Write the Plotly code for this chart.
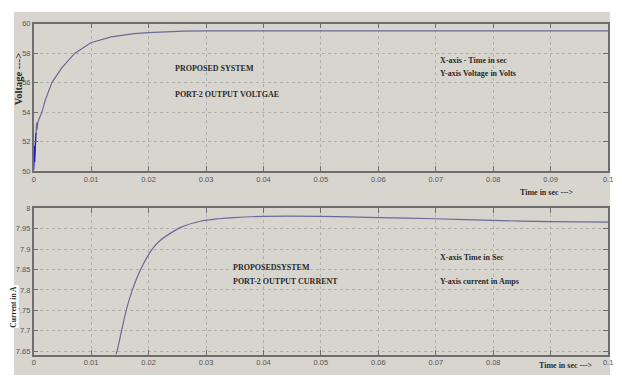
import plotly.graph_objects as go

# ---------------- data ----------------
v_time = [0.0, 0.00004, 0.00008, 0.00012, 0.00016, 0.0002, 0.00025, 0.0003, 0.0004, 0.0005,
          0.0006, 0.0007, 0.001, 0.00143, 0.002, 0.00316, 0.00488, 0.00718, 0.00993,
          0.0135, 0.0175, 0.02, 0.0261, 0.03, 0.05, 0.07, 0.1]
v_volt = [50.1, 51.6, 50.4, 51.7, 50.6, 51.5, 51.0, 51.9, 52.6, 53.3,
          52.8, 53.3, 53.6, 54.0, 54.8, 56.0, 57.0, 58.0, 58.71,
          59.11, 59.33, 59.40, 59.50, 59.52, 59.52, 59.52, 59.52]
n_blue = 9  # first samples drawn in saturated blue

i_time = [0.0143, 0.0145, 0.0161, 0.0171, 0.01867, 0.0207, 0.022, 0.0256, 0.029,
          0.0322, 0.0348, 0.04, 0.05, 0.06, 0.07, 0.08, 0.09, 0.1]
i_amp = [7.642, 7.650, 7.750, 7.797, 7.852, 7.901, 7.921, 7.953, 7.968,
         7.974, 7.977, 7.980, 7.980, 7.977, 7.974, 7.970, 7.967, 7.966]

x_ticks = [0, 0.01, 0.02, 0.03, 0.04, 0.05, 0.06, 0.07, 0.08, 0.09, 0.1]
x_labels_top = ["0", "0.01", "0.02", "0.03", "0.04", "0.05", "0.06", "0.07", "0.08", "0.09", "0.1"]
# in the reference the 0.09 label of the lower panel is hidden behind the axis title
x_labels_bottom = ["0", "0.01", "0.02", "0.03", "0.04", "0.05", "0.06", "0.07", "0.08", "", "0.1"]
v_ticks = [50, 52, 54, 56, 58, 60]
v_labels = ["50", "52", "54", "56", "58", "60"]
i_ticks = [7.65, 7.7, 7.75, 7.8, 7.85, 7.9, 7.95, 8.0]
i_labels = ["7.65", "7.7", "7.75", "7.8", "7.85", "7.9", "7.95", "8"]

# page body has an 8px margin: figure is shifted by 8px
OFF = 8
W, H = 622 - OFF, 380 - OFF
def px(x):
    return (x - OFF) / W
def py(y):
    return 1 - (y - OFF) / H

curve_color = "#6a6a98"
grid_color = "#b0b0b0"
axis_color = "#6e6e6e"
bg_gray = "#d8d5cf"
tick_font = dict(family="Liberation Sans Narrow, Liberation Sans, Arial", size=7.5, color="#555555")
lab_family = "Liberation Serif, Times New Roman, serif"

fig = go.Figure()
fig.add_trace(go.Scatter(x=v_time[n_blue - 1:], y=v_volt[n_blue - 1:], mode="lines",
                         line=dict(color=curve_color, width=1.2), xaxis="x", yaxis="y",
                         showlegend=False))
fig.add_trace(go.Scatter(x=v_time[:n_blue], y=v_volt[:n_blue], mode="lines",
                         line=dict(color="#1c1cc8", width=1.4), xaxis="x", yaxis="y",
                         showlegend=False))
fig.add_trace(go.Scatter(x=i_time, y=i_amp, mode="lines", line_shape="spline",
                         line=dict(color=curve_color, width=1.2, smoothing=0.8),
                         xaxis="x2", yaxis="y2", showlegend=False))

common_x = dict(range=[0, 0.1], tickvals=x_ticks, ticks="inside",
                ticklen=5, tickcolor=axis_color, showline=True, linecolor=axis_color,
                linewidth=1.5, mirror="ticks", showgrid=True, gridcolor=grid_color,
                griddash="dot", gridwidth=1, zeroline=False, tickfont=tick_font,
                fixedrange=True, ticklabeloverflow="allow")
common_y = dict(ticks="inside", ticklen=5, tickcolor=axis_color, showline=True,
                linecolor=axis_color, linewidth=1.5, mirror="ticks", showgrid=True,
                gridcolor=grid_color, griddash="dot", gridwidth=1, zeroline=False,
                tickfont=tick_font, fixedrange=True)

fig.update_layout(
    width=W, height=H, margin=dict(l=0, r=0, t=0, b=0),
    paper_bgcolor="white", plot_bgcolor="white",
    xaxis=dict(domain=[px(32), px(613)], anchor="y", ticktext=x_labels_top, **common_x),
    yaxis=dict(domain=[py(171), py(20)], anchor="x", range=[50, 60],
               tickvals=v_ticks, ticktext=v_labels, **common_y),
    xaxis2=dict(domain=[px(32), px(613)], anchor="y2", ticktext=x_labels_bottom, **common_x),
    yaxis2=dict(domain=[py(359), py(209)], anchor="x2", range=[7.642, 8.0],
                tickvals=i_ticks, ticktext=i_labels, **common_y),
    shapes=[dict(type="rect", xref="paper", yref="paper", x0=px(12), x1=px(615),
                 y0=0, y1=1, fillcolor=bg_gray, line=dict(width=0), layer="below")],
)

def note(text, x, y, xanchor="left", size=8, angle=0, bg=None, pad=1):
    fig.add_annotation(text="<b>%s</b>" % text, x=px(x), y=py(y), xref="paper", yref="paper",
                       xanchor=xanchor, yanchor="middle", showarrow=False, textangle=angle,
                       font=dict(family=lab_family, size=size, color="#2a2a2a"),
                       bgcolor=bg, borderpad=pad)

# top panel
note("PROPOSED SYSTEM", 173, 66)
note("PORT-2 OUTPUT VOLTGAE", 173, 93)
note("X-axis - Time in sec", 441, 58)
note("Y-axis Voltage in Volts", 441, 71)
note("Time in sec ---&gt;", 522, 193)
note("Voltage ---&gt;", 16, 76, xanchor="center", size=10.5, angle=-90)
# bottom panel
note("PROPOSEDSYSTEM", 232, 270)
note("PORT-2 OUTPUT CURRENT", 232, 284)
note("X-axis Time in Sec", 441, 260)
note("Y-axis current in Amps", 441, 284)
note("Time in sec ---&gt;", 541, 370)
note("Current in A", 12, 310, xanchor="center", size=7.5, angle=-90, bg="white", pad=0)

fig.write_html("out.html")
